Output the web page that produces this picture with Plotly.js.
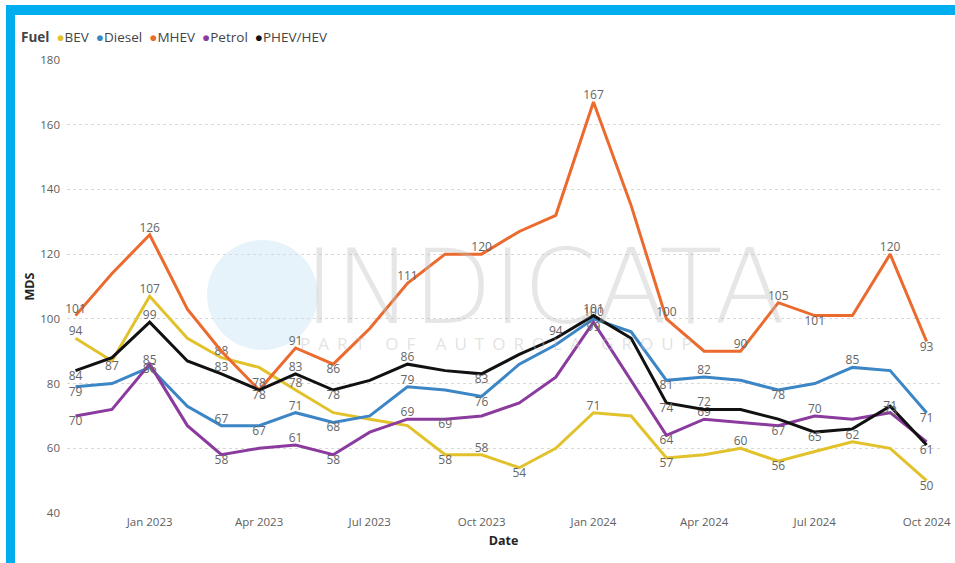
<!DOCTYPE html>
<html>
<head>
<meta charset="utf-8">
<script src="https://cdn.plot.ly/plotly-3.0.1.min.js"></script>
<style>html,body{margin:0;padding:0;background:#fff;}#chart{width:955px;height:563px;}</style>
</head>
<body>
<div id="chart"></div>
<script>
// Months (Nov 2022 .. Oct 2024)
const months = ["2022-11-01","2022-12-01","2023-01-01","2023-02-01","2023-03-01","2023-04-01","2023-05-01","2023-06-01","2023-07-01","2023-08-01","2023-09-01","2023-10-01","2023-11-01","2023-12-01","2024-01-01","2024-02-01","2024-03-01","2024-04-01","2024-05-01","2024-06-01","2024-07-01","2024-08-01","2024-09-01","2024-10-01"];

const fuels = ["BEV","Diesel","MHEV","Petrol","PHEV/HEV"];

const bev    = [94, 87, 107, 94, 88, 85, 78, 71, 69, 67, 58, 58, 54, 60, 71, 70, 57, 58, 60, 56, 59, 62, 60, 50];
const diesel = [79, 80, 85, 73, 67, 67, 71, 68, 70, 79, 78, 76, 86, 92, 100, 96, 81, 82, 81, 78, 80, 85, 84, 71];
const mhev   = [101, 114, 126, 103, 90, 78, 91, 86, 97, 111, 120, 120, 127, 132, 167, 135, 100, 90, 90, 105, 101, 101, 120, 93];
const petrol = [70, 72, 86, 67, 58, 60, 61, 58, 65, 69, 69, 70, 74, 82, 99, 81, 64, 69, 68, 67, 70, 69, 71, 62];
const phev   = [84, 88, 99, 87, 83, 78, 83, 78, 81, 86, 84, 83, 89, 94, 101, 94, 74, 72, 72, 69, 65, 66, 73, 61];

const xTickVals = ["2023-01-01","2023-04-01","2023-07-01","2023-10-01","2024-01-01","2024-04-01","2024-07-01","2024-10-01"];
const xTickText = ["Jan 2023","Apr 2023","Jul 2023","Oct 2023","Jan 2024","Apr 2024","Jul 2024","Oct 2024"];
const yTickVals = [40, 60, 80, 100, 120, 140, 160, 180];

// which points carry a data label (index -> placement)
const bevLabels    = {0:"t",1:"b",2:"t",4:"t",6:"t",10:"b",11:"t",12:"b",14:"t",16:"b",18:"t",19:"b",21:"t",23:"b"};
const dieselLabels = {0:"b",2:"t",4:"t",5:"b",6:"t",7:"b",9:"t",11:"b",14:"t",16:"b",17:"t",19:"b",21:"t",23:"b"};
const mhevLabels   = {0:"t",2:"t",5:"t",6:"t",7:"b",9:"t",11:"t",14:"t",16:"t",18:"t",19:"t",20:"b",22:"t",23:"b"};
const petrolLabels = {0:"b",2:"b",4:"b",6:"t",7:"b",9:"t",10:"b",14:"b",16:"b",17:"t",19:"b",20:"t",22:"t"};
const phevLabels   = {0:"b",2:"t",4:"t",5:"b",6:"t",7:"b",9:"t",11:"b",13:"t",14:"t",16:"b",17:"t",20:"b",22:"b",23:"b"};

const colors = ["#E2C22B","#3D86C6","#EB6A2E","#8B3A9E","#111111"];
const seriesVals = [bev, diesel, mhev, petrol, phev];
const seriesLabels = [bevLabels, dieselLabels, mhevLabels, petrolLabels, phevLabels];

const traces = [];
seriesVals.forEach((vals, s) => {
  const lab = seriesLabels[s];
  traces.push({
    type: "scatter", mode: "lines+text",
    x: months, y: vals, name: fuels[s], showlegend: false,
    line: {color: colors[s], width: 3},
    text: vals.map((v, i) => (i in lab) ? String(v) : ""),
    textposition: vals.map((v, i) => lab[i] === "b" ? "bottom center" : "top center"),
    textfont: {family: "Segoe UI, Open Sans, sans-serif", size: 12, color: "#666666"},
    cliponaxis: false, hoverinfo: "skip"
  });
});

// geometry helpers (plot area: 67..940 px horizontally, 60..513 px vertically)
const L = 67, R = 940, T = 60, B = 513;
const px = x => (x - L) / (R - L);
const py = y => (B - y) / (B - T);

// legend line: "Fuel" + coloured dots + names
const legendText = "<b>Fuel</b>  " + fuels.map((f, s) =>
  "<span style=\"color:" + colors[s] + "\">●</span>" + f).join("  ");

const layout = {
  width: 955, height: 563,
  margin: {l: L, r: 955 - R, t: T, b: 563 - B, pad: 0},
  paper_bgcolor: "#ffffff", plot_bgcolor: "#ffffff",
  font: {family: "Segoe UI, Open Sans, sans-serif", color: "#605E5C", size: 11},
  showlegend: false,
  xaxis: {
    type: "date", range: ["2022-10-25", "2024-10-12"],
    tickvals: xTickVals, ticktext: xTickText,
    showgrid: false, zeroline: false, showline: false, ticks: "", ticklen: 0,
    tickfont: {size: 11.5, color: "#605E5C"},
    title: {text: "<b>Date</b>", font: {size: 12.5, color: "#252423"}, standoff: 8}
  },
  yaxis: {
    range: [40, 180], tickvals: yTickVals,
    showgrid: true, gridcolor: "#D9D9D9", griddash: "dot", gridwidth: 1,
    zeroline: false, showline: false, ticks: "", ticklabelstandoff: 6,
    tickfont: {size: 11.5, color: "#605E5C"},
    title: {text: "<b>MDS</b>", font: {size: 12.5, color: "#252423"}, standoff: 2}
  },
  shapes: [
    {type: "rect", xref: "paper", yref: "paper", x0: px(6), x1: px(15), y0: py(563), y1: py(5),
      fillcolor: "#00AEEF", line: {width: 0}, layer: "above"},
    {type: "rect", xref: "paper", yref: "paper", x0: px(6), x1: px(955), y0: py(15), y1: py(5),
      fillcolor: "#00AEEF", line: {width: 0}, layer: "above"},
    {type: "circle", xref: "paper", yref: "paper", x0: px(207), x1: px(318), y0: py(350), y1: py(240),
      fillcolor: "rgba(175,215,240,0.30)", line: {width: 0}, layer: "below"}
  ],
  annotations: [
    {xref: "paper", yref: "paper", x: px(19), y: py(37), xanchor: "left", yanchor: "middle",
      text: legendText, showarrow: false, align: "left",
      font: {family: "Segoe UI, Open Sans, sans-serif", size: 13.5, color: "#444444"}},
    {xref: "paper", yref: "paper", x: px(545), y: py(287), text: "INDICATA", showarrow: false,
      font: {family: "DejaVu Sans, sans-serif", size: 104, color: "rgba(190,190,190,0.38)", weight: 300}},
    {xref: "paper", yref: "paper", x: px(500), y: py(343), text: "PART OF AUTOROLA GROUP", showarrow: false,
      font: {family: "Open Sans, sans-serif", size: 17, color: "rgba(190,190,190,0.45)"}}
  ]
};

Plotly.newPlot("chart", traces, layout, {displayModeBar: false, staticPlot: true}).then(gd => {
  // spread the watermark subtitle letters like the reference
  gd.querySelectorAll(".annotation-text").forEach(t => {
    if (t.textContent === "PART OF AUTOROLA GROUP") t.style.letterSpacing = "8px";
  });
});
</script>
</body>
</html>
